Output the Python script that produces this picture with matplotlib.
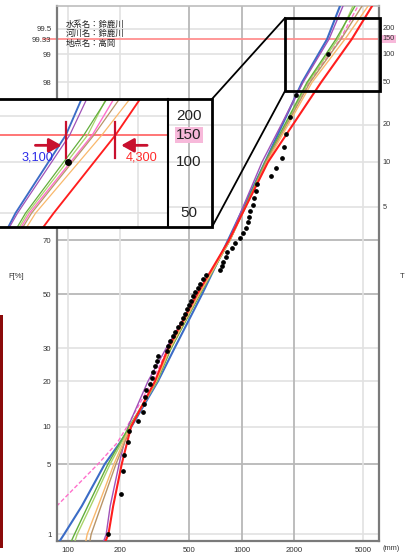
import numpy as np
import matplotlib.pyplot as plt
from matplotlib.patches import Rectangle, FancyArrowPatch
from matplotlib.lines import Line2D
from statistics import NormalDist

plt.rcParams['font.family'] = ['Liberation Sans', 'Noto Sans CJK JP', 'DejaVu Sans']

W, H = 405, 557
_nd = NormalDist()


def z(p):
    # percent non-exceedance -> standard normal deviate (probability paper axis)
    return np.array([_nd.inv_cdf(v / 100.0) for v in np.atleast_1d(p)])


def fig_xy(px, py):
    # pixel position on the page -> figure fraction
    return px / W, 1 - py / H


# observed annual maxima (mm), ascending
rain = [171, 201, 207, 210, 222, 225, 254, 271, 275, 278,
        280, 296, 303, 310, 317, 325, 331, 370, 375, 387,
        401, 413, 432, 446, 461, 472, 482, 499, 509, 522,
        538, 563, 575, 601, 623, 750, 767, 784, 812, 826,
        876, 915, 978, 1021, 1059, 1091, 1106, 1116, 1166, 1185,
        1209, 1220, 1469, 1576, 1700, 1759, 1799, 1897, 2054, 3140]
rank = np.arange(1, len(rain) + 1)
plot_pos = (rank - 0.4) / (len(rain) + 0.2) * 100  # Cunnane plotting position

# fitted distributions: rainfall (mm) at each non-exceedance probability
fit_F = [0.85, 1, 2, 5, 10, 20, 30, 50, 70, 90, 98, 99.33, 99.74]
fit_blue = [90, 95, 120, 163, 232, 330, 410, 591, 834, 1362, 2224, 3100, 3680]
fit_purple = [161, 166, 175, 197, 222, 289, 367, 560, 845, 1309, 2254, 3180, 3830]
fit_green = [105, 109, 130, 170, 225, 325, 392, 575, 856, 1362, 2376, 3490, 4490]
fit_lgreen = [110, 113, 135, 175, 228, 327, 392, 575, 856, 1380, 2408, 3580, 4370]
fit_brown = [134, 136, 155, 189, 231, 322, 387, 568, 856, 1380, 2473, 3730, 4930]
fit_orange = [127, 129, 149, 184, 228, 322, 387, 568, 856, 1399, 2539, 3930, 5340]
fit_red = [165, 171, 182, 204, 231, 317, 377, 553, 845, 1417, 2861, 4300, 5630]
pink_F = [2, 5, 7.5, 10, 20, 30, 50, 70, 90, 98, 99.33, 99.74]
fit_pink = [86, 149, 192, 219, 305, 377, 568, 856, 1380, 2440, 3690, 4670]

fits = [
    (fit_blue, '#3B6CC6', 1.5),
    (fit_purple, '#A052B8', 1.0),
    (fit_lgreen, '#A9D46B', 1.0),
    (fit_green, '#62AE3C', 1.0),
    (fit_brown, '#B89468', 1.0),
    (fit_orange, '#F9B86C', 1.0),
    (fit_red, '#FF1E1E', 1.5),
]

x_ticks = [100, 200, 500, 1000, 2000, 5000]
F_ticks = [1, 5, 10, 20, 30, 50, 70, 98, 99, 99.33, 99.5]
F_labels = ['1', '5', '10', '20', '30', '50', '70', '98', '99', '99.33', '99.5']
T_ticks = [200, 150, 100, 50, 20, 10, 5]
grid_dark_F = [5, 50, 70]
grid_light_F = [1, 10, 20, 30, 80, 90, 95, 98, 99, 99.5]
grid_dark_x = [500, 1000, 2000]
grid_light_x = [100, 200, 5000]
target_F = 99.33
label_lo, label_hi = 3100, 4300

fig = plt.figure(figsize=(W / 100, H / 100), dpi=100)

# ---- main probability plot ----
ax = fig.add_axes([57 / W, 1 - 541 / H, 322 / W, 535 / H])
ax.set_xscale('log')
ax.set_xlim(86.5, 6170)
ax.set_ylim(z(0.84)[0], z(99.74)[0])

for f in grid_light_F:
    ax.axhline(z(f)[0], color='#E2E2E2', lw=1.2, zorder=0)
for f in grid_dark_F:
    ax.axhline(z(f)[0], color='#B8B8B8', lw=1.3, zorder=0)
for v in grid_light_x:
    ax.axvline(v, color='#E2E2E2', lw=1.2, zorder=0)
for v in grid_dark_x:
    ax.axvline(v, color='#B8B8B8', lw=1.3, zorder=0)

# design probability line, runs out a little past the left edge
ax.plot([-0.045, 1.0], [z(target_F)[0]] * 2, transform=ax.get_yaxis_transform(),
        color='#FF9090', lw=1.3, clip_on=False, zorder=1)

ax.plot(fit_pink, z(pink_F), color='#FF6FCB', lw=1.0, ls=(0, (3, 1.6)), zorder=2)
for vals, col, lw in fits:
    ax.plot(vals, z(fit_F), color=col, lw=lw, zorder=3)
ax.plot(rain, z(plot_pos), 'o', color='black', ms=2.4, zorder=5)

ax.set_xticks(x_ticks)
ax.set_xticklabels([str(v) for v in x_ticks])
ax.xaxis.set_minor_locator(plt.NullLocator())
ax.set_yticks(z(F_ticks))
ax.set_yticklabels(F_labels)
ax.tick_params(length=0, labelsize=5.6, colors='#333333', pad=4)
for s in ['left', 'bottom', 'right']:
    ax.spines[s].set_color('#7A7A7A')
    ax.spines[s].set_linewidth(1.6)
ax.spines['top'].set_color('#BDBDBD')
ax.spines['top'].set_linewidth(1.2)

# return period scale on the right
for t in T_ticks:
    f = 100 - 100 / t
    kw = {}
    if t == 150:
        kw['bbox'] = dict(facecolor='#F7B9DA', edgecolor='none', pad=0.6)
    ax.text(1.012, z(f)[0], str(t), transform=ax.get_yaxis_transform(),
            fontsize=5.3, color='#333333', va='center', ha='left', **kw)

fig.text(*fig_xy(391, 548), '(mm)', fontsize=5.3, color='#333333', ha='center', va='center')
fig.text(*fig_xy(16, 277), 'F[%]', fontsize=5.5, color='#333333', ha='center', va='center')
fig.text(*fig_xy(402, 277), 'T', fontsize=5.5, color='#333333', ha='center', va='center')

info = ['水系名：鈴鹿川', '河川名：鈴鹿川', '地点名：高岡']
for i, s in enumerate(info):
    fig.text(*fig_xy(66, 24 + 9.6 * i), s, fontsize=6.0, color='#222222',
             family=['Noto Sans CJK JP'], ha='left', va='center')

# ---- enlarged view of the upper tail ----
ax_in = fig.add_axes([-2 / W, 1 - 227 / H, 170 / W, 128 / H])
ax_in.set_xscale('log')
ax_in.set_xlim(10 ** 3.297, 10 ** 3.784)
ax_in.set_ylim(1.979, 2.667)
ax_in.set_xticks([])
ax_in.set_yticks([])
ax_in.xaxis.set_minor_locator(plt.NullLocator())
for s in ax_in.spines.values():
    s.set_visible(False)
for f in [98, 99, 99.5]:
    ax_in.axhline(z(f)[0], color='#E2E2E2', lw=1.2, zorder=0)
for v in [2000, 5000]:
    ax_in.axvline(v, color='#E2E2E2', lw=1.2, zorder=0)
ax_in.axhline(z(target_F)[0], color='#FF6A6A', lw=1.3, zorder=1)
ax_in.plot(fit_pink, z(pink_F), color='#FF6FCB', lw=1.0, zorder=2)
for vals, col, lw in fits:
    ax_in.plot(vals, z(fit_F), color=col, lw=lw * 0.9, zorder=3)
ax_in.plot(rain, z(plot_pos), 'o', color='black', ms=4, zorder=5)

crimson = '#C8102E'
yT = z(target_F)[0]
for v in (label_lo, label_hi):
    ax_in.plot([v, v], [yT - 0.125, yT + 0.07], color=crimson, lw=1.6, zorder=6)
ax_in.add_patch(FancyArrowPatch((label_lo / 1.245, yT - 0.055), (label_lo * 0.99, yT - 0.055),
                                arrowstyle='-|>,head_length=0.75,head_width=0.42',
                                mutation_scale=10, color=crimson, lw=2, zorder=6))
ax_in.add_patch(FancyArrowPatch((label_hi * 1.255, yT - 0.055), (label_hi * 1.02, yT - 0.055),
                                arrowstyle='-|>,head_length=0.75,head_width=0.42',
                                mutation_scale=10, color=crimson, lw=2, zorder=6))
ax_in.text(label_lo / 1.088, yT - 0.12, f'{label_lo:,}', color='#2B2BE8', fontsize=9.2,
           ha='right', va='center')
ax_in.text(label_hi * 1.073, yT - 0.12, f'{label_hi:,}', color='#FF2A2A', fontsize=9.2,
           ha='left', va='center')

for t in [200, 150, 100, 50]:
    f = 100 - 100 / t
    kw = {}
    if t == 150:
        kw['bbox'] = dict(facecolor='#F7B9DA', edgecolor='none', pad=0.8)
    ax_in.text(1.124, z(f)[0], str(t), transform=ax_in.get_yaxis_transform(),
               fontsize=11, color='#222222', ha='center', va='center', **kw)

# frame of the enlarged view, its divider, and the marker box on the main plot
fig.add_artist(Rectangle(fig_xy(-2, 227), 214 / W, 128 / H, transform=fig.transFigure,
                         fill=False, edgecolor='black', lw=2))
fig.add_artist(Line2D([168 / W, 168 / W], [1 - 99 / H, 1 - 227 / H], color='black', lw=1.5))
fig.add_artist(Rectangle(fig_xy(285, 91), 95 / W, 73 / H, transform=fig.transFigure,
                         fill=False, edgecolor='black', lw=2))
for (x0, y0), (x1, y1) in [((212, 99), (285, 18)), ((212, 227), (285, 91))]:
    a, b = fig_xy(x0, y0)
    c, d = fig_xy(x1, y1)
    fig.add_artist(Line2D([a, c], [b, d], color='black', lw=1.3))

# margin bar on the left edge
fig.add_artist(Rectangle(fig_xy(0, 548), 2.5 / W, 233 / H, transform=fig.transFigure,
                         facecolor='#8B0A0A', edgecolor='none'))

fig.savefig('out.png', dpi=100)
